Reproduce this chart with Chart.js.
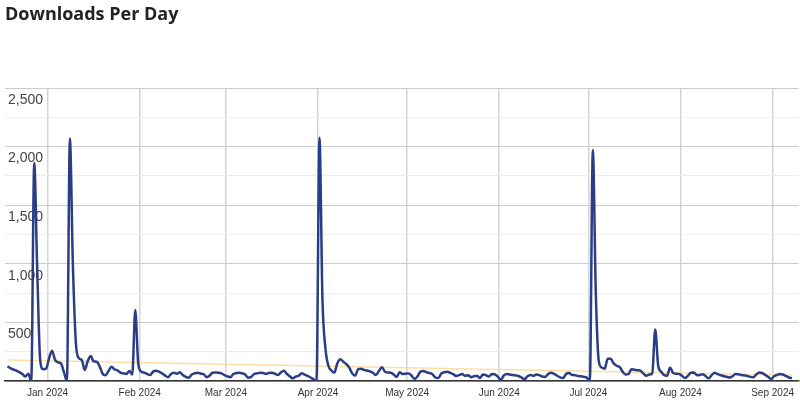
<!DOCTYPE html>
<html>
<head>
<meta charset="utf-8">
<script src="https://cdn.jsdelivr.net/npm/chart.js@4.4.1/dist/chart.umd.min.js"></script>
<style>
html,body{margin:0;padding:0;background:#fff;}
#wrap{width:800px;height:402px;position:relative;}
</style>
</head>
<body>
<div id="wrap"><canvas id="c" width="800" height="402"></canvas></div>
<script>
// Day index 0 = 2023-12-18, one value per day (plotted at mid-day)
const startDate = '2023-12-18';
const downloads = [
  125,110,98,88,75,60,38,62,0,1860,
  950,180,100,105,195,259,180,160,150,75,
  0,2070,1000,330,195,180,94,170,213,168,
  165,125,62,50,85,122,100,90,72,65,
  60,85,55,606,150,80,71,60,51,80,
  88,80,65,48,31,60,71,62,75,51,
  35,28,55,66,71,62,58,33,45,70,
  72,71,65,51,40,33,60,68,71,65,
  55,28,35,60,65,70,68,60,68,71,
  62,51,72,88,62,40,23,38,45,66,
  55,43,30,15,0,2075,700,280,130,90,
  72,150,185,165,145,115,65,45,100,105,
  95,90,82,70,51,85,117,80,72,71,
  55,35,75,60,62,65,45,18,40,80,
  85,75,68,58,30,25,62,75,78,70,
  58,43,50,60,45,50,33,40,45,25,
  55,50,38,60,58,37,10,45,60,55,
  51,48,43,30,14,40,51,43,55,50,
  38,35,60,70,60,45,31,25,60,68,
  52,50,43,40,35,28,0,1970,750,170,
  115,105,190,190,150,130,120,80,55,60,
  100,96,92,88,65,45,55,65,440,130,
  80,50,45,115,70,62,60,45,25,45,
  70,72,50,52,58,40,23,50,71,58,
  50,42,37,30,40,60,58,52,48,43,
  35,32,55,72,68,52,35,18,40,52,
  60,55,43,30,23
];
// linear trendline values at first and last day
const trendline = [179, 49];
// month tick positions (day index, midnight) and labels
const monthTickDays = [14, 45, 74, 105, 135, 166, 196, 227, 258];
const monthTickLabels = ['Jan 2024','Feb 2024','Mar 2024','Apr 2024','May 2024','Jun 2024','Jul 2024','Aug 2024','Sep 2024'];
const yMax = 2500;
const yStep = 250;
const yLabelStep = 500;

const seriesPoints = downloads.map((v, i) => ({x: i + 0.5, y: v}));
const trendPoints = [{x: 0.5, y: trendline[0]}, {x: downloads.length - 0.5, y: trendline[1]}];

new Chart(document.getElementById('c'), {
  type: 'line',
  data: {
    datasets: [
      {
        label: 'Downloads',
        data: seriesPoints,
        borderColor: '#2b3d84',
        borderWidth: 2.5,
        pointRadius: 0,
        cubicInterpolationMode: 'monotone',
        fill: false,
        order: 0
      },
      {
        label: 'Trend',
        data: trendPoints,
        borderColor: 'rgba(252, 212, 130, 0.75)',
        borderWidth: 1.5,
        pointRadius: 0,
        fill: false,
        order: 1
      }
    ]
  },
  options: {
    responsive: false,
    animation: false,
    layout: {padding: {left: 5, right: 0, top: 0, bottom: 0}},
    plugins: {
      legend: {display: false},
      tooltip: {enabled: false},
      title: {
        display: true,
        text: 'Downloads Per Day',
        align: 'start',
        color: '#222',
        font: {family: "'Open Sans', sans-serif", size: 18, weight: 'bold'},
        padding: {top: 4, bottom: 62.4}
      }
    },
    scales: {
      x: {
        type: 'linear',
        min: -0.34,
        max: 266.7,
        afterFit: (s) => { s.height = 21; },
        afterBuildTicks: (axis) => { axis.ticks = monthTickDays.map(v => ({value: v})); },
        ticks: {
          autoSkip: false,
          maxRotation: 0,
          padding: 6,
          color: '#333',
          font: {family: "'Liberation Sans', Arial, sans-serif", size: 10},
          callback: (value) => {
            const k = monthTickDays.indexOf(value);
            return k >= 0 ? monthTickLabels[k] : '';
          }
        },
        grid: {color: '#d4d4d4', lineWidth: 1.5, drawTicks: false},
        border: {display: true, color: '#333', width: 1.5}
      },
      y: {
        min: 0,
        max: yMax,
        afterFit: (s) => { s.width = 0; },
        ticks: {
          stepSize: yStep,
          mirror: true,
          padding: 3,
          labelOffset: 12,
          color: '#444',
          font: {family: "'Liberation Sans', Arial, sans-serif", size: 14},
          callback: (v) => (v > 0 && v % yLabelStep === 0) ? v.toLocaleString('en-US') : ''
        },
        grid: {
          color: (ctx) => (ctx.tick && ctx.tick.value % yLabelStep === 0) ? '#cccccc' : '#ececec',
          lineWidth: 1,
          drawTicks: false
        },
        border: {display: false}
      }
    }
  }
});
</script>
</body>
</html>
